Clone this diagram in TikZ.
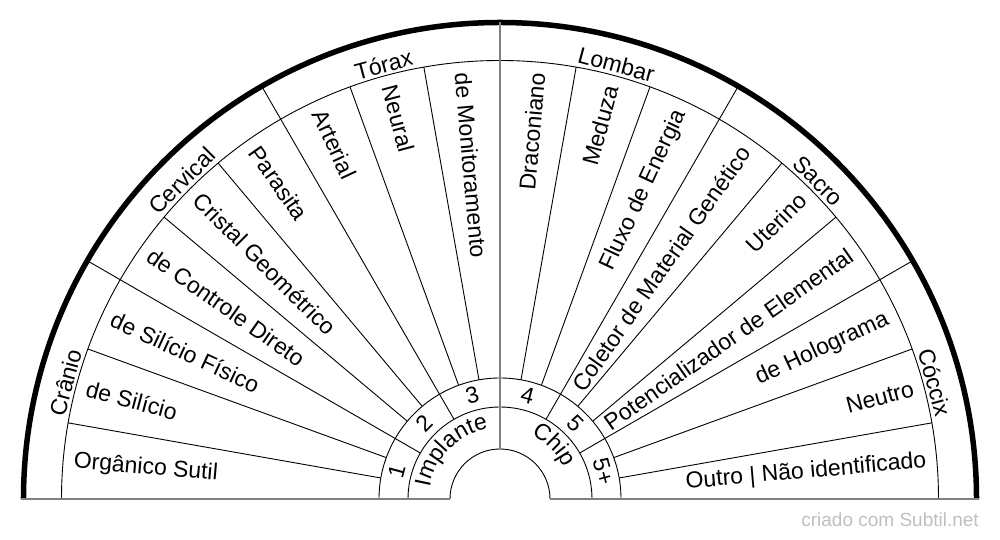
\documentclass[tikz,border=0pt]{standalone}
\usepackage{fontspec}
\setmainfont{Liberation Sans}
\usepackage{tikz}
\usetikzlibrary{decorations.text}
\newcommand{\chartfont}{\fontsize{23}{27}\selectfont}

\begin{document}
\begin{tikzpicture}[x=1pt, y=1pt, font=\chartfont,
    thinl/.style={line width=.9pt},
    axis/.style={line width=1.8pt, draw=gray},
    inl/.style={anchor=west, inner sep=0pt},
    outl/.style={anchor=east, inner sep=0pt},
    zone/.style={inner sep=0pt}]
  \useasboundingbox (-500,-41) rectangle (500,499);
  % rings
  \draw[thinl] (50,0) arc[start angle=0, end angle=180, radius=50pt];
  \draw[thinl] (92,0) arc[start angle=0, end angle=180, radius=92pt];
  \draw[thinl] (121,0) arc[start angle=0, end angle=180, radius=121pt];
  \draw[thinl] (438.5,0) arc[start angle=0, end angle=180, radius=438.5pt];
  \draw[line width=5.5pt] (476.5,0) arc[start angle=0, end angle=180, radius=476.5pt];
  % dividers
  \draw[thinl]
    (10:121) -- (10:438.5)   (20:121) -- (20:438.5)
    (40:121) -- (40:438.5)   (50:121) -- (50:438.5)
    (70:121) -- (70:438.5)   (80:121) -- (80:438.5)
    (100:121) -- (100:438.5) (110:121) -- (110:438.5)
    (130:121) -- (130:438.5) (140:121) -- (140:438.5)
    (160:121) -- (160:438.5) (170:121) -- (170:438.5);
  \draw[thinl]
    (30:92) -- (30:476.5)   (60:92) -- (60:476.5)
    (120:92) -- (120:476.5) (150:92) -- (150:476.5);
  \draw[axis] (-479,0) -- (-50,0) (50,0) -- (479,0) (90:50) -- (90:476.5);
  % outer ring
  \node[zone, rotate=75] (p-1) at (165:450) {Crânio};
  \node[zone, rotate=45] (p-2) at (135:450) {Cervical};
  \node[zone, rotate=15] (p-3) at (105:450) {Tórax};
  \node[zone, rotate=-15] (p-4) at (75:450) {Lombar};
  \node[zone, rotate=-45] (p-5) at (45:450) {Sacro};
  \node[zone, rotate=-75] (p-6) at (15:450) {Cóccix};
  % items
  \node[inl, rotate=355] (i-1) at (175:428) {Orgânico Sutil};
  \node[inl, rotate=345] (i-2) at (165:428) {de Silício};
  \node[inl, rotate=335] (i-3) at (155:428) {de Silício Físico};
  \node[inl, rotate=325] (i-4) at (145:428) {de Controle Direto};
  \node[inl, rotate=315] (i-5) at (135:428) {Cristal Geométrico};
  \node[inl, rotate=305] (i-6) at (125:428) {Parasita};
  \node[inl, rotate=295] (i-7) at (115:428) {Arterial};
  \node[inl, rotate=285] (i-8) at (105:428) {Neural};
  \node[inl, rotate=275] (i-9) at (95:428) {de Monitoramento};
  \node[outl, rotate=85] (i-10) at (85:428) {Draconiano};
  \node[outl, rotate=75] (i-11) at (75:428) {Meduza};
  \node[outl, rotate=65] (i-12) at (65:428) {Fluxo de Energia};
  \node[outl, rotate=55] (i-13) at (55:428) {Coletor de Material Genético};
  \node[outl, rotate=45] (i-14) at (45:428) {Uterino};
  \node[outl, rotate=35] (i-15) at (35:428) {Potencializador de Elemental};
  \node[outl, rotate=25] (i-16) at (25:428) {de Holograma};
  \node[outl, rotate=15] (i-17) at (15:428) {Neutro};
  \node[outl, rotate=5] (i-18) at (5:428) {Outro | Não identificado};
  % numbers
  \node[zone, rotate=75] (n-1) at (165:107) {1};
  \node[zone, rotate=45] (n-2) at (135:107) {2};
  \node[zone, rotate=15] (n-3) at (105:107) {3};
  \node[zone, rotate=-15] (n-4) at (75:107) {4};
  \node[zone, rotate=-45] (n-5) at (45:107) {5};
  \node[zone, rotate=-75] (n-6) at (15:107) {5+};
  % inner ring
  \path[decorate, decoration={text along path, text align=center,
    text={|\chartfont|Implante}}] (180:71) arc[start angle=180, end angle=90, radius=71pt];
  \path[decorate, decoration={text along path, text align=center,
    text={|\chartfont|Chip}}] (90:71) arc[start angle=90, end angle=0, radius=71pt];
  \node[anchor=base east, inner sep=0pt, text=gray!50, font=\fontsize{19}{22}\selectfont]
    (credit) at (479,-28) {criado com Subtil.net};
\end{tikzpicture}
\end{document}
